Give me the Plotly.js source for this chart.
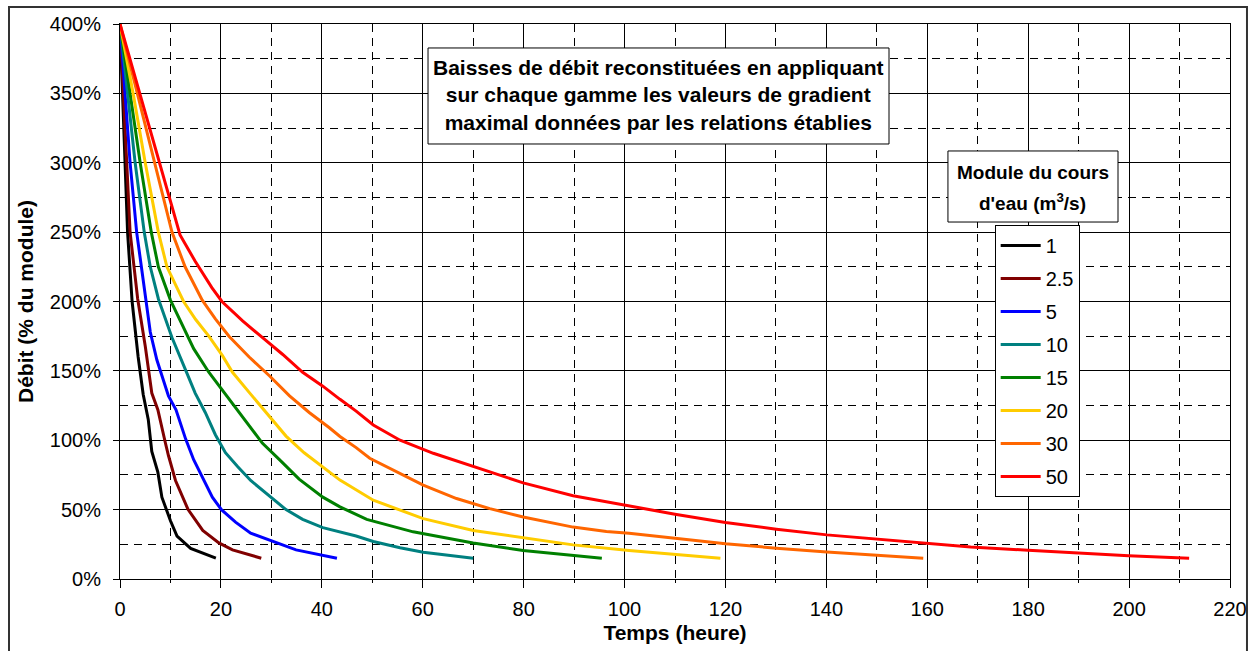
<!DOCTYPE html>
<html>
<head>
<meta charset="utf-8">
<script src="https://cdn.plot.ly/plotly-3.0.1.min.js"></script>
<style>
html,body{margin:0;padding:0;background:#fff;}
#chart{width:1258px;height:651px;}
</style>
</head>
<body>
<div id="chart"></div>
<script>
// Module du cours d'eau (m3/s) -> series names
const seriesNames = ["1", "2.5", "5", "10", "15", "20", "30", "50"];
const seriesColors = ["#000000", "#800000", "#0000ff", "#008080", "#008000", "#ffcc00", "#ff6600", "#ff0000"];

// Temps (heure) and Débit (% du module)
const t1 = [0, 0.5, 0.9, 1.5, 2.4, 3.6, 4.6, 5.6, 6.3, 7.5, 8.3, 10, 11.3, 14, 19];
const q1 = [400, 350, 300, 250, 200, 160, 133, 115, 92, 77, 59, 42, 31, 22, 15];

const t2_5 = [0, 0.66, 1.2, 2.0, 3.5, 5.0, 6.3, 7.5, 9.0, 9.6, 11, 13.5, 16.4, 19.6, 22.3, 28];
const q2_5 = [400, 350, 300, 250, 202, 168, 134, 122, 98, 89, 71, 50, 35, 26, 21, 15];

const t5 = [0, 1.0, 2.0, 3.3, 5.0, 6.0, 7.3, 9.6, 11.1, 13, 14.6, 16.3, 18.3, 20.1, 22.9, 25.9, 30.2, 34.9, 43];
const q5 = [400, 350, 300, 250, 202, 178, 158, 132, 122, 101, 86, 74, 59, 50, 41, 33, 27, 21, 15];

const t10 = [0, 1.46, 3.0, 4.8, 6.0, 7.6, 9.0, 10.3, 13.3, 14.9, 16.9, 18.9, 20.9, 23.3, 25.9, 29.6, 32.9, 36.2, 40.2, 46.8, 50.2, 55.5, 60.1, 70];
const q10 = [400, 350, 300, 250, 225, 202, 187, 174, 148, 134, 120, 104, 91, 81, 71, 60, 50, 43, 37, 31, 27, 22.5, 19.3, 15];

const t15 = [0, 2.0, 4.0, 6.2, 7.6, 10.0, 12.3, 14.6, 17.6, 20.3, 22.6, 25.6, 28.2, 31.6, 35.5, 40.2, 43.6, 48.9, 58.1, 70, 79.9, 95.5];
const q15 = [400, 350, 300, 250, 225, 201, 183, 166, 149, 136, 125, 110, 98, 86, 72, 59, 52, 43, 34, 26, 20.5, 15];

const t20 = [0, 2.6, 5.0, 7.6, 9.3, 12.6, 15.0, 17.6, 20.3, 22.3, 25.6, 29.6, 32.9, 36.5, 40.2, 43.6, 50.2, 60.1, 70, 79.9, 89.8, 100.9, 110, 119];
const q20 = [400, 350, 300, 250, 225, 200, 187, 175, 161, 149, 134.5, 117.6, 103, 91, 81, 71.3, 56.8, 43.5, 35, 29.7, 24.6, 20.6, 17.9, 15];

const t30 = [0, 3.4, 6.9, 10.3, 12.9, 16.3, 18.9, 21.6, 25.6, 29.6, 33.6, 37.5, 41.5, 43.6, 46.8, 49.5, 60.1, 66.7, 73.3, 79.9, 89.8, 96.4, 100.9, 110, 120, 130.1, 140.1, 150, 159.2];
const q30 = [400, 350, 300, 250, 225, 201, 187.5, 175, 160, 146.5, 132, 120, 109, 102.7, 94.7, 87, 67.6, 58, 50.7, 44.7, 37.4, 34.3, 33, 29.4, 25.4, 22.2, 19.4, 17.2, 15];

const t50 = [0, 3.9, 7.9, 11.9, 14.9, 18.2, 20.2, 24.3, 27.9, 32.2, 36.2, 40.2, 43.6, 46.8, 50.2, 55.5, 62.1, 70, 79.9, 89.8, 100.9, 110, 120, 130.1, 140.1, 150, 160, 168.6, 180, 189.8, 199.9, 211.9];
const q50 = [400, 350, 300, 248, 229, 210, 200, 186, 175, 162, 149, 139, 129.5, 121, 111, 100, 90.6, 81, 69.3, 60, 52.6, 46.7, 40.7, 35.9, 31.8, 28.7, 25.4, 23, 20.7, 18.8, 16.7, 15];

const xTickVals = [0, 20, 40, 60, 80, 100, 120, 140, 160, 180, 200, 220];
const yTickVals = [0, 50, 100, 150, 200, 250, 300, 350, 400];
const yTickText = ["0%", "50%", "100%", "150%", "200%", "250%", "300%", "350%", "400%"];

const allT = [t1, t2_5, t5, t10, t15, t20, t30, t50];
const allQ = [q1, q2_5, q5, q10, q15, q20, q30, q50];

const FONT = "Liberation Sans, Arial, sans-serif";

const traces = seriesNames.map((name, i) => ({
  type: "scatter",
  mode: "lines",
  name: name,
  legendgroup: "g" + i,
  x: allT[i],
  y: allQ[i],
  line: {color: seriesColors[i], width: 3}
}));

const layout = {
  width: 1258,
  height: 651,
  margin: {l: 120, r: 28, t: 24, b: 72},
  paper_bgcolor: "#ffffff",
  plot_bgcolor: "#ffffff",
  font: {family: FONT, size: 20, color: "#000"},
  showlegend: true,
  legend: {
    x: 0.788, y: 0.638, xanchor: "left", yanchor: "top",
    bgcolor: "#ffffff", bordercolor: "#000", borderwidth: 1,
    font: {family: FONT, size: 20, color: "#000"},
    tracegroupgap: 4,
    itemwidth: 40
  },
  xaxis: {
    range: [0, 220],
    tickvals: xTickVals,
    ticks: "outside", ticklen: 8, tickcolor: "#000",
    ticklabelstandoff: 4,
    showline: true, linecolor: "#000", linewidth: 1, mirror: true,
    showgrid: true, gridcolor: "#000", gridwidth: 1,
    minor: {dtick: 10, tick0: 0, showgrid: true, gridcolor: "#000", griddash: "8px,6px", gridwidth: 1, ticks: "outside", ticklen: 3, tickcolor: "#000"},
    zeroline: false,
    tickfont: {size: 20},
    title: {text: "<b>Temps (heure)</b>", font: {size: 21}, standoff: 6}
  },
  yaxis: {
    range: [0, 400],
    tickvals: yTickVals,
    ticktext: yTickText,
    ticks: "outside", ticklen: 6, tickcolor: "#000",
    ticklabelstandoff: 8,
    showline: true, linecolor: "#000", linewidth: 1, mirror: true,
    showgrid: true, gridcolor: "#000", gridwidth: 1,
    minor: {dtick: 25, tick0: 0, showgrid: true, gridcolor: "#000", griddash: "8px,6px", gridwidth: 1, ticks: ""},
    zeroline: false,
    tickfont: {size: 20},
    title: {text: "<b>Débit (% du module)</b>", font: {size: 21}, standoff: 10}
  },
  shapes: [
    {type: "rect", xref: "paper", yref: "paper", x0: -0.1, x1: 1.0153, y0: -0.15, y1: 1.0306,
     line: {color: "#333", width: 2}, fillcolor: "rgba(0,0,0,0)", layer: "below"},
    {type: "rect", xref: "paper", yref: "paper", x0: 0.2775, x1: 0.6928, y0: 0.7838, y1: 0.9568,
     line: {color: "#000", width: 1}, fillcolor: "#ffffff", layer: "above"},
    {type: "rect", xref: "paper", yref: "paper", x0: 0.7459, x1: 0.8991, y0: 0.6432, y1: 0.7712,
     line: {color: "#000", width: 1}, fillcolor: "#ffffff", layer: "above"}
  ],
  annotations: [
    {xref: "paper", yref: "paper", x: 0.4851, y: 0.8712, xanchor: "center", yanchor: "middle",
     text: "<b>Baisses de débit reconstituées en appliquant<br>sur chaque gamme les valeurs de gradient<br>maximal données par les relations établies</b>",
     showarrow: false, align: "center", font: {family: FONT, size: 21, color: "#000"}},
    {xref: "paper", yref: "paper", x: 0.8225, y: 0.7324, xanchor: "center", yanchor: "middle",
     text: "<b>Module du cours</b>",
     showarrow: false, align: "center", font: {family: FONT, size: 19, color: "#000"}},
    {xref: "paper", yref: "paper", x: 0.8225, y: 0.6793, xanchor: "center", yanchor: "middle",
     text: "<b>d'eau (m<sup>3</sup>/s)</b>",
     showarrow: false, align: "center", font: {family: FONT, size: 19, color: "#000"}}
  ]
};

Plotly.newPlot("chart", traces, layout, {displayModeBar: false, staticPlot: true});
</script>
</body>
</html>
